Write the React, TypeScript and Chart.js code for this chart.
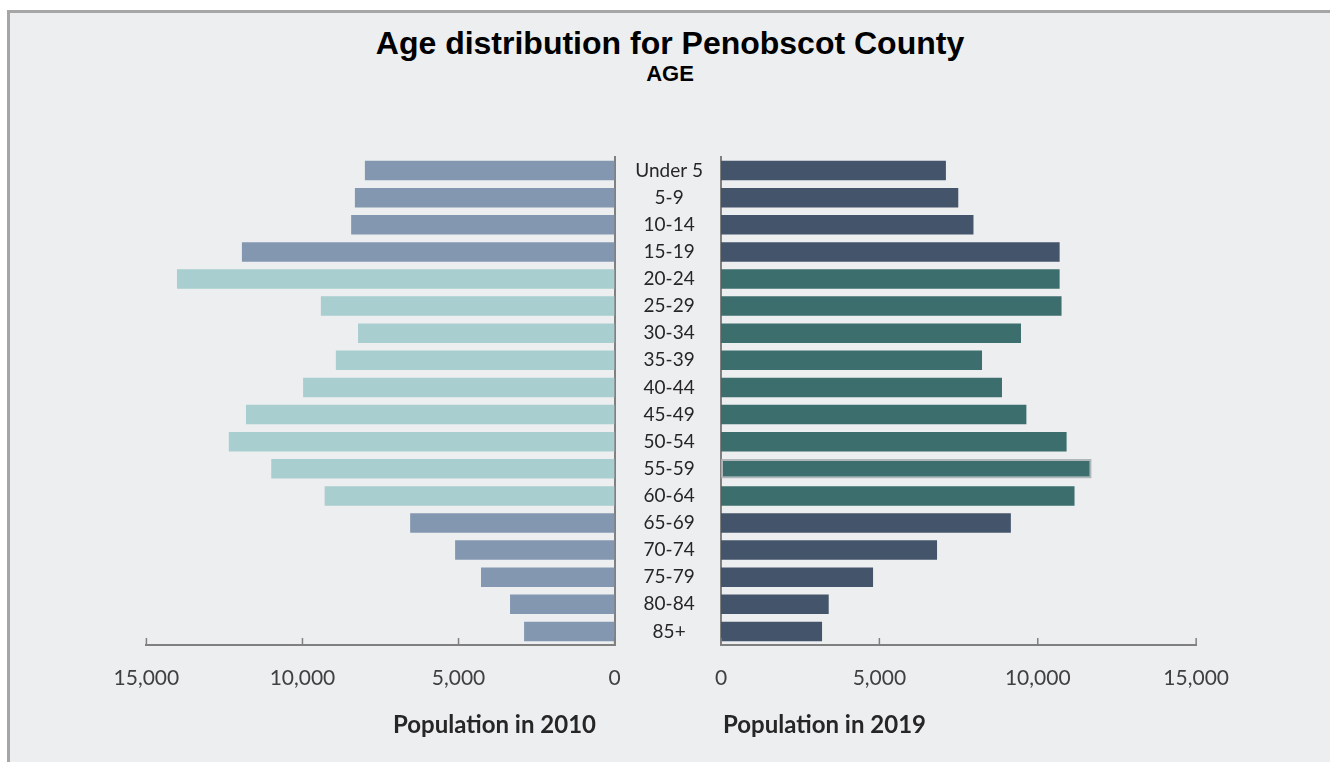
import React, { useEffect, useRef } from "react";
import { Chart, registerables } from "chart.js";

Chart.register(...registerables);

const categories = [
  "Under 5", "5-9", "10-14", "15-19", "20-24", "25-29", "30-34", "35-39", "40-44",
  "45-49", "50-54", "55-59", "60-64", "65-69", "70-74", "75-79", "80-84", "85+",
];
const population2010 = [
  8000, 8320, 8440, 11940, 14020, 9410, 8220, 8930, 9980,
  11810, 12360, 11000, 9290, 6550, 5110, 4280, 3350, 2900,
];
const population2019 = [
  7100, 7490, 7970, 10690, 10690, 10750, 9470, 8240, 8870,
  9640, 10910, 11700, 11160, 9150, 6820, 4800, 3400, 3190,
];
const xTickValues = [0, 5000, 10000, 15000];
const workingAgeGroups = ["20-24", "25-29", "30-34", "35-39", "40-44", "45-49", "50-54", "55-59", "60-64"];
const highlightedGroup = "55-59";

const AXIS_GRAY = "#808080";
const CAT_FONT_SIZE = 19;

const upTicks = {
  id: "upTicks",
  afterDraw(chart: any) {
    const s = chart.scales.x;
    const ctx = chart.ctx;
    ctx.save();
    ctx.strokeStyle = AXIS_GRAY;
    ctx.lineWidth = 1.5;
    s.ticks.forEach((t: any) => {
      const px = s.getPixelForValue(t.value);
      ctx.beginPath();
      ctx.moveTo(px, s.top);
      ctx.lineTo(px, s.top - 7);
      ctx.stroke();
    });
    ctx.restore();
  },
};

const fmt = (v: any) => Number(v).toLocaleString("en-US");

function xScale(reverse: boolean) {
  return {
    reverse,
    min: xTickValues[0],
    max: xTickValues[xTickValues.length - 1],
    afterBuildTicks: (s: any) => {
      s.ticks = xTickValues.map((v) => ({ value: v }));
    },
    ticks: {
      padding: 21,
      color: "#404040",
      font: { family: "Lato", size: 21 },
      callback: fmt,
      maxRotation: 0,
      autoSkip: false,
    },
    grid: { display: false, drawTicks: false },
    border: { display: true, color: AXIS_GRAY, width: 2 },
    afterFit: (s: any) => {
      s.height = 115;
    },
  };
}

export default function App() {
  const leftRef = useRef<HTMLCanvasElement>(null);
  const rightRef = useRef<HTMLCanvasElement>(null);

  useEffect(() => {
    const left = new Chart(leftRef.current as HTMLCanvasElement, {
      type: "bar",
      data: {
        labels: categories,
        datasets: [
          {
            data: population2010,
            backgroundColor: categories.map((c) => (workingAgeGroups.includes(c) ? "#a9cecf" : "#8497b0")),
            barPercentage: 0.72,
            categoryPercentage: 1,
          },
        ],
      },
      options: {
        indexAxis: "y",
        animation: false,
        responsive: false,
        layout: { padding: { left: 46.4, right: 0, top: 17, bottom: 0 } },
        plugins: { legend: { display: false }, tooltip: { enabled: false } },
        scales: {
          x: xScale(true) as any,
          y: {
            position: "right",
            ticks: { display: false },
            grid: { display: false, drawTicks: false },
            border: { display: true, color: AXIS_GRAY, width: 2 },
            afterFit: (s: any) => {
              s.width = 15.4;
              s.paddingTop = 0;
              s.paddingBottom = 0;
            },
          },
        },
      },
      plugins: [upTicks],
    });

    const right = new Chart(rightRef.current as HTMLCanvasElement, {
      type: "bar",
      data: {
        labels: categories,
        datasets: [
          {
            data: population2019,
            backgroundColor: categories.map((c) => (workingAgeGroups.includes(c) ? "#3d6e6e" : "#44546a")),
            borderColor: categories.map((c) => (c === highlightedGroup ? "rgba(170,175,178,0.9)" : "rgba(0,0,0,0)")),
            borderWidth: categories.map((c) => (c === highlightedGroup ? 2 : 0)),
            borderSkipped: false,
            barPercentage: 0.72,
            categoryPercentage: 1,
          },
        ],
      },
      options: {
        indexAxis: "y",
        animation: false,
        responsive: false,
        layout: { padding: { left: 0, right: 52, top: 17, bottom: 0 } },
        plugins: { legend: { display: false }, tooltip: { enabled: false } },
        scales: {
          x: xScale(false) as any,
          y: {
            position: "left",
            ticks: {
              crossAlign: "center",
              padding: 18,
              color: "#262626",
              font: { family: "Lato", size: CAT_FONT_SIZE },
              autoSkip: false,
            },
            grid: { display: false, drawTicks: false },
            border: { display: true, color: AXIS_GRAY, width: 2 },
            afterFit: (s: any) => {
              s.width = 111;
              s.paddingTop = 0;
              s.paddingBottom = 0;
            },
          },
        },
      },
      plugins: [upTicks],
    });

    return () => {
      left.destroy();
      right.destroy();
    };
  }, []);

  const axisTitle: React.CSSProperties = {
    position: "absolute",
    top: 709,
    fontFamily: "Lato",
    fontWeight: 700,
    fontSize: 24,
    lineHeight: "30px",
    color: "#262626",
    whiteSpace: "nowrap",
  };

  return (
    <div style={{ position: "absolute", left: 0, top: 0, width: 1330, height: 762, overflow: "hidden", background: "#ffffff" }}>
      <div
        style={{
          position: "absolute",
          left: 7,
          top: 10,
          width: 1323,
          height: 752,
          boxSizing: "border-box",
          borderTop: "3px solid #a6a6a6",
          borderLeft: "3px solid #a6a6a6",
          background: "#eceef0",
        }}
      />
      <div
        style={{
          position: "absolute",
          left: 370,
          width: 600,
          top: 25,
          textAlign: "center",
          fontFamily: "'Liberation Sans', Arial, sans-serif",
          fontWeight: 700,
          fontSize: 32,
          lineHeight: "36px",
          color: "#000",
        }}
      >
        Age distribution for Penobscot County
      </div>
      <div
        style={{
          position: "absolute",
          left: 570,
          width: 200,
          top: 61,
          textAlign: "center",
          fontFamily: "'Liberation Sans', Arial, sans-serif",
          fontWeight: 700,
          fontSize: 22,
          lineHeight: "26px",
          color: "#000",
        }}
      >
        AGE
      </div>
      <canvas ref={leftRef} width={530} height={620} style={{ position: "absolute", left: 100, top: 140, width: 530, height: 620 }} />
      <canvas ref={rightRef} width={640} height={620} style={{ position: "absolute", left: 610, top: 140, width: 640, height: 620 }} />
      <div style={{ ...axisTitle, left: 246, width: 350, textAlign: "right" }}>Population in 2010</div>
      <div style={{ ...axisTitle, left: 723 }}>Population in 2019</div>
    </div>
  );
}
